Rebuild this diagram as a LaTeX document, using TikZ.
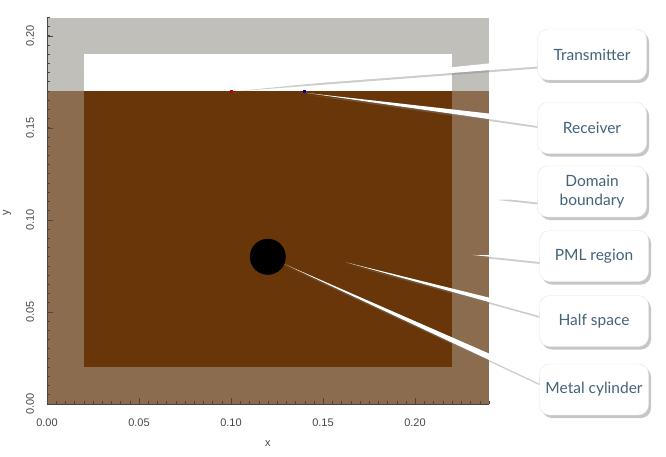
\documentclass[tikz,border=0pt]{standalone}
\usepackage{fontspec}
\setmainfont{Lato}
\newfontfamily\plotfont{Liberation Sans}
\usetikzlibrary{shadows}

\definecolor{pmlgray}{RGB}{193,191,186}
\definecolor{pmlbrown}{RGB}{139,108,79}
\definecolor{soil}{RGB}{104,54,8}
\definecolor{labelblue}{RGB}{67,99,121}
\definecolor{axisgray}{RGB}{70,70,70}

\pgfdeclarelayer{front}
\pgfsetlayers{main,front}

\begin{document}
\begin{tikzpicture}[x=1pt,y=1pt,
        callout/.style={draw=black!10,fill=white,rounded corners=10pt,minimum width=109pt,minimum height=51pt,
            align=center,text=labelblue,font=\fontsize{15.5}{18.5}\selectfont,
            drop shadow={opacity=0.45,shadow xshift=2.5pt,shadow yshift=-3pt}},
        wedge/.style={fill=white,drop shadow={opacity=0.4,shadow xshift=1pt,shadow yshift=-2pt}},
        axis/.style={draw=axisgray,line width=0.6pt},
        ticklabel/.style={font=\plotfont\fontsize{11}{13}\selectfont,text=axisgray}]

    \useasboundingbox (0,0) rectangle (666,456);

    % Model, in metres
    \begin{scope}[shift={(47,52)},x=1840pt,y=1840pt]
        \fill[pmlbrown] (0,0) rectangle (0.24,0.17);
        \fill[pmlgray] (0,0.17) rectangle (0.24,0.21);
        \fill[white] (0.02,0.17) rectangle (0.22,0.19);
        \fill[soil] (0.02,0.02) rectangle (0.22,0.17);

        \node[circle,fill=black,minimum size=36pt,inner sep=0pt] (cyl) at (0.12,0.08) {};
        \node[fill=red!75!black,minimum size=3pt,inner sep=0pt] (tx) at (0.10,0.17) {};
        \node[fill=blue!60!black,minimum size=3pt,inner sep=0pt] (rx) at (0.14,0.17) {};

        \coordinate (dbnd) at (0.244,0.112);
        \coordinate (pml) at (0.2315,0.081);
        \coordinate (half) at (0.1625,0.077);

        % Axes
        \draw[axis] (0,0.21) -- (0,0) -- (0.24,0);
        \foreach \i in {0,...,48}
            \draw[axis] (\i*0.005,0) -- ++(0,3pt);
        \foreach \i in {0,...,42}
            \draw[axis] (0,\i*0.005) -- ++(3pt,0);
        \foreach \v/\lab in {0/0.00,0.05/0.05,0.1/0.10,0.15/0.15,0.2/0.20} {
            \draw[axis] (\v,0) -- ++(0,6pt);
            \draw[axis] (0,\v) -- ++(6pt,0);
            \node[ticklabel,yshift=-19pt] at (\v,0) {\lab};
            \node[ticklabel,xshift=-17pt,rotate=90] at (0,\v) {\lab};
        }
        \node[ticklabel,yshift=-40pt] at (0.12,0) {x};
        \node[ticklabel,xshift=-40pt,rotate=90] at (0,0.104) {y};
    \end{scope}

    % Labels
    \begin{pgfonlayer}{front}
        \node[callout] (trans) at (592,401.5) {Transmitter};
        \node[callout] (recv) at (592,328) {Receiver};
        \node[callout] (bound) at (592,264.5) {Domain\\boundary};
        \node[callout] (pmlreg) at (594,200) {PML region};
        \node[callout] (halfsp) at (594,135) {Half space};
        \node[callout] (metal) at (594,66.5) {Metal cylinder};
    \end{pgfonlayer}

    % Pointers
    \fill[wedge] (tx.north east) -- ([yshift=-4pt]trans.west) -- ([yshift=-12pt]trans.west) -- cycle;
    \fill[wedge] (rx.south east) -- ([yshift=9pt]recv.west) -- ([yshift=2pt]recv.west) -- cycle;
    \fill[wedge] (dbnd) -- ([yshift=-5pt]bound.west) -- ([yshift=-11pt]bound.west) -- cycle;
    \fill[wedge] (pml) -- ([yshift=0pt]pmlreg.west) -- ([yshift=-6pt]pmlreg.west) -- cycle;
    \fill[wedge] (half) -- ([yshift=11pt]halfsp.west) -- ([yshift=5pt]halfsp.west) -- cycle;
    \fill[wedge] (cyl) -- ([yshift=14pt]metal.west) -- ([yshift=6pt]metal.west) -- cycle;

\end{tikzpicture}
\end{document}
